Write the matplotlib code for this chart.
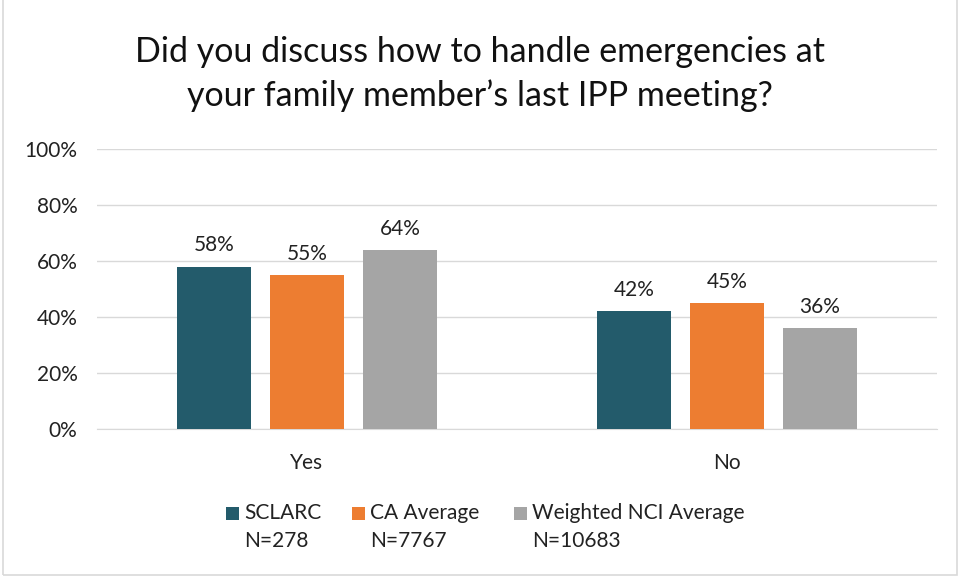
import numpy as np
import matplotlib.pyplot as plt
from matplotlib.patches import Rectangle

plt.rcParams['font.family'] = ['Lato', 'DejaVu Sans']

categories = ["Yes", "No"]
series_names = ["SCLARC\nN=278", "CA Average\nN=7767", "Weighted NCI Average\nN=10683"]
sclarc = [58, 42]
ca_avg = [55, 45]
nci_avg = [64, 36]
colors = ["#235B6B", "#ED7D31", "#A5A5A5"]

fig = plt.figure(figsize=(9.6, 5.78), dpi=100)
W, H = 960, 578
ax = fig.add_axes([97 / W, 1 - 429 / H, 840 / W, 280 / H])

x = np.arange(len(categories))
width = 0.176
step = 0.221
for i, vals in enumerate([sclarc, ca_avg, nci_avg]):
    pos = x + (i - 1) * step
    bars = ax.bar(pos, vals, width, color=colors[i], zorder=3)
    for b, v in zip(bars, vals):
        ax.text(b.get_x() + b.get_width() / 2, v + 4, f"{v}%", ha="center",
                va="bottom", fontsize=15, color="#222222")

ax.set_xlim(-0.5, 1.5)
ax.set_ylim(0, 100)
ax.set_yticks(range(0, 101, 20))
ax.set_yticklabels([f"{t}%" for t in range(0, 101, 20)])
ax.set_xticks(x)
ax.set_xticklabels(categories)
ax.tick_params(axis="both", length=0, labelsize=15, colors="#222222")
ax.tick_params(axis="y", pad=14)
ax.tick_params(axis="x", pad=17)
ax.yaxis.grid(True, color="#D9D9D9", linewidth=1, zorder=0)
for s in ["top", "right", "left"]:
    ax.spines[s].set_visible(False)
ax.spines["bottom"].set_color("#D9D9D9")

fig.text(0.5, 1 - 74 / H,
         "Did you discuss how to handle emergencies at\nyour family member\u2019s last IPP meeting?",
         ha="center", va="center", fontsize=24.5, color="#111111", linespacing=1.42)

# legend
leg_x = [226, 352, 514]
for lx, name, c in zip(leg_x, series_names, colors):
    fig.patches.append(Rectangle((lx / W, 1 - 520 / H), 13 / W, 13 / H,
                                 transform=fig.transFigure, facecolor=c, edgecolor="none"))
    fig.text((lx + 18) / W, 1 - 503 / H, name, ha="left", va="top", fontsize=15,
             color="#222222", linespacing=1.5)

# chart border
fig.patches.append(Rectangle((3 / W, 3 / H), 954 / W, 590 / H, transform=fig.transFigure,
                             facecolor="none", edgecolor="#D9D9D9", linewidth=1.2))

fig.savefig("out.png", dpi=100)
